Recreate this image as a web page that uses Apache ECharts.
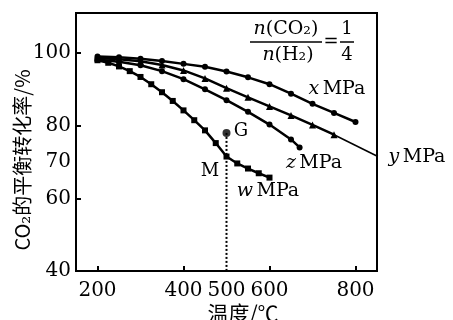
<!DOCTYPE html>
<html><head><meta charset="utf-8">
<script src="https://cdn.jsdelivr.net/npm/echarts@6/dist/echarts.min.js"></script>
<style>html,body{margin:0;padding:0;background:#fff}#c{width:453px;height:320px}</style>
</head><body><div id="c"></div>
<script>
// Data
const xSeries = [[200,99],[250,98.8],[300,98.4],[350,97.8],[400,97],[450,96.2],[500,94.9],[550,93.3],[600,91.4],[650,88.8],[700,86],[750,83.5],[800,81]];
const ySeries = [[200,98.6],[250,98.3],[300,97.7],[350,96.7],[400,95.2],[450,93],[500,90.3],[550,87.8],[600,85.3],[650,82.8],[700,80.2],[750,77.5]];
const zSeries = [[200,98.2],[250,97.6],[300,96.6],[350,95],[400,92.8],[450,90],[500,87],[550,83.8],[600,80.3],[650,76.2],[670,74]];
const wSeries = [[200,98],[225,97.3],[250,96.3],[275,95],[300,93.4],[325,91.4],[350,89.2],[375,86.8],[400,84.2],[425,81.5],[450,78.7],[475,75.2],[500,71.5],[525,69.6],[550,68.2],[575,66.9],[600,65.7]];
const pointG = [[500,78]];
const dashLine = [[500,78],[500,40]];
const yLeader = [[750,77.5],[852,71.5]];
const xTickLabels = [200,400,500,600,800];
const xTicks = [200,400,600,800];
const yTickLabels = [40,60,70,80,100];
const yTicks = [60,80,100];

const serif = 'DejaVu Serif';
const chart = echarts.init(document.getElementById('c'));
function curve(name, data, symbol, size){
  return {name, type:'line', data, symbol, symbolSize:size, showSymbol:true,
    lineStyle:{color:'#000', width:2.5}, itemStyle:{color:'#000'}, z:3};
}
const rich = {i:{fontStyle:'italic', fontFamily:serif, fontSize:19, fill:'#000'}, r:{fontFamily:serif, fontSize:19, fill:'#000'}};
chart.setOption({
  animation:false,
  grid:{left:76, right:76, top:13, bottom:49, show:true, borderColor:'#000', borderWidth:2, backgroundColor:'transparent'},
  xAxis:{type:'value', min:150, max:850, interval:50,
    axisLine:{lineStyle:{color:'#000', width:2}},
    splitLine:{show:false},
    axisTick:{inside:true, length:5, lineStyle:{color:'#000', width:2}, customValues:xTicks},
    axisLabel:{customValues:xTickLabels, color:'#000', fontFamily:serif, fontSize:20, margin:10}},
  yAxis:{type:'value', min:40, max:111, interval:10,
    axisLine:{lineStyle:{color:'#000', width:2}},
    splitLine:{show:false},
    axisTick:{inside:true, length:5, lineStyle:{color:'#000', width:2}, customValues:yTicks},
    axisLabel:{customValues:yTickLabels, color:'#000', fontFamily:serif, fontSize:20, margin:5}},
  series:[
    curve('x', xSeries, 'circle', 6),
    curve('y', ySeries, 'triangle', 7),
    curve('z', zSeries, 'circle', 6),
    curve('w', wSeries, 'rect', 6),
    {type:'line', data:dashLine, symbol:'none', lineStyle:{color:'#000', width:2, type:[2,2]}, z:2},
    {type:'scatter', data:pointG, symbol:'circle', symbolSize:8, itemStyle:{color:'#000'}, z:4},
    {type:'line', data:yLeader, symbol:'none', clip:false, lineStyle:{color:'#000', width:1.5}, z:2}
  ],
  graphic:[
    {type:'text', x:22, y:160, rotation:Math.PI/2, style:{text:'CO₂的平衡转化率/%', font:'20px "Noto Sans CJK SC", "DejaVu Serif"', fill:'#000', align:'center', verticalAlign:'middle'}},
    {type:'text', x:243, y:313, style:{text:'温度/℃', font:'21px "Noto Sans CJK SC"', fill:'#000', align:'center', verticalAlign:'middle'}},
    {type:'text', x:286, y:29, style:{rich, text:'{i|n}{r|(CO₂)}', align:'center', verticalAlign:'middle'}},
    {type:'line', shape:{x1:250, y1:42, x2:322, y2:42}, style:{stroke:'#000', lineWidth:1.5}},
    {type:'text', x:288, y:55, style:{rich, text:'{i|n}{r|(H₂)}', align:'center', verticalAlign:'middle'}},
    {type:'text', x:331, y:42, style:{text:'=', font:'18px "DejaVu Serif"', fill:'#000', align:'center', verticalAlign:'middle'}},
    {type:'text', x:347, y:29, style:{text:'1', font:'18px "DejaVu Serif"', fill:'#000', align:'center', verticalAlign:'middle'}},
    {type:'line', shape:{x1:340, y1:42, x2:354, y2:42}, style:{stroke:'#000', lineWidth:1.5}},
    {type:'text', x:347, y:55, style:{text:'4', font:'18px "DejaVu Serif"', fill:'#000', align:'center', verticalAlign:'middle'}},
    {type:'text', x:337, y:89, style:{rich, text:'{i|x} {r|MPa}', align:'center', verticalAlign:'middle'}},
    {type:'text', x:417, y:157, style:{rich, text:'{i|y} {r|MPa}', align:'center', verticalAlign:'middle'}},
    {type:'text', x:314, y:163, style:{rich, text:'{i|z} {r|MPa}', align:'center', verticalAlign:'middle'}},
    {type:'text', x:268, y:191, style:{rich, text:'{i|w} {r|MPa}', align:'center', verticalAlign:'middle'}},
    {type:'text', x:210, y:171, style:{text:'M', font:'18px "DejaVu Serif"', fill:'#000', align:'center', verticalAlign:'middle'}},
    {type:'text', x:241, y:131, style:{text:'G', font:'18px "DejaVu Serif"', fill:'#000', align:'center', verticalAlign:'middle'}}
  ]
});
</script></body></html>
